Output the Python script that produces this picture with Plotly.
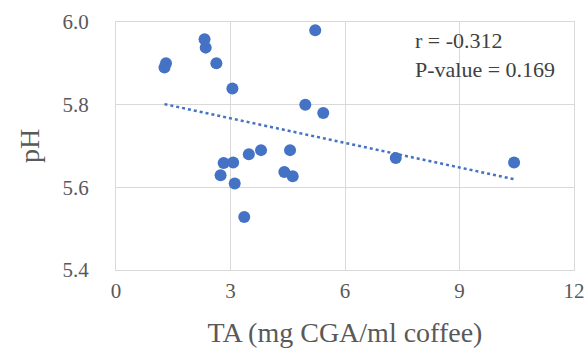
import numpy as np
import plotly.graph_objects as go

ta = [5.22, 2.32, 2.35, 2.63, 1.31, 1.27, 3.05, 4.96, 5.43,
      2.82, 3.07, 3.48, 3.80, 4.56, 2.74, 3.11, 4.41, 4.63, 3.36,
      7.33, 10.43]
ph = [5.98, 5.958, 5.938, 5.90, 5.90, 5.89, 5.839, 5.80, 5.78,
      5.659, 5.66, 5.68, 5.69, 5.69, 5.629, 5.609, 5.637, 5.627, 5.528,
      5.671, 5.66]
x_ticks = [0, 3, 6, 9, 12]
y_ticks = [5.4, 5.6, 5.8, 6.0]
stats_text = ["r = -0.312", "P-value = 0.169"]

slope, intercept = np.polyfit(ta, ph, 1)
tx = [min(ta), max(ta)]
ty = [slope * v + intercept for v in tx]

blue = "#4472C4"
font_family = "Liberation Serif, Times New Roman, serif"

fig = go.Figure()
fig.add_trace(go.Scatter(x=tx, y=ty, mode="lines",
                         line=dict(color=blue, width=2.5, dash="dot"),
                         hoverinfo="skip", showlegend=False))
fig.add_trace(go.Scatter(x=ta, y=ph, mode="markers",
                         marker=dict(color=blue, size=12),
                         showlegend=False))

fig.add_annotation(x=0.649, y=0.867, xref="paper", yref="paper",
                   text="<br>".join(stats_text), showarrow=False,
                   xanchor="left", yanchor="middle", align="left",
                   font=dict(family=font_family, size=22, color="#404040"))

fig.update_layout(
    width=586, height=351,
    margin=dict(l=116, r=12, t=22, b=81, autoexpand=False),
    paper_bgcolor="white", plot_bgcolor="white",
    font=dict(family=font_family, color="#595959"),
    xaxis=dict(range=[0, 12], tickvals=x_ticks, ticktext=[str(v) for v in x_ticks],
               automargin=False,
               showgrid=True, gridcolor="#d9d9d9", gridwidth=1,
               showline=True, linecolor="#d9d9d9", linewidth=1, mirror=True,
               zeroline=False, ticks="", ticklabelstandoff=2,
               tickfont=dict(size=21, color="#595959"),
               title=dict(text="TA (mg CGA/ml coffee)", standoff=20,
                          font=dict(size=28, color="#595959"))),
    yaxis=dict(range=[5.4, 6.0], tickvals=y_ticks, ticktext=[f"{v:.1f}" for v in y_ticks],
               automargin=False,
               showgrid=True, gridcolor="#d9d9d9", gridwidth=1,
               showline=True, linecolor="#d9d9d9", linewidth=1, mirror=True,
               zeroline=False, ticks="", ticklabelstandoff=22,
               tickfont=dict(size=21, color="#595959"),
               title=dict(text="pH", standoff=14,
                          font=dict(size=28, color="#595959"))),
)

fig.write_html("out.html")
